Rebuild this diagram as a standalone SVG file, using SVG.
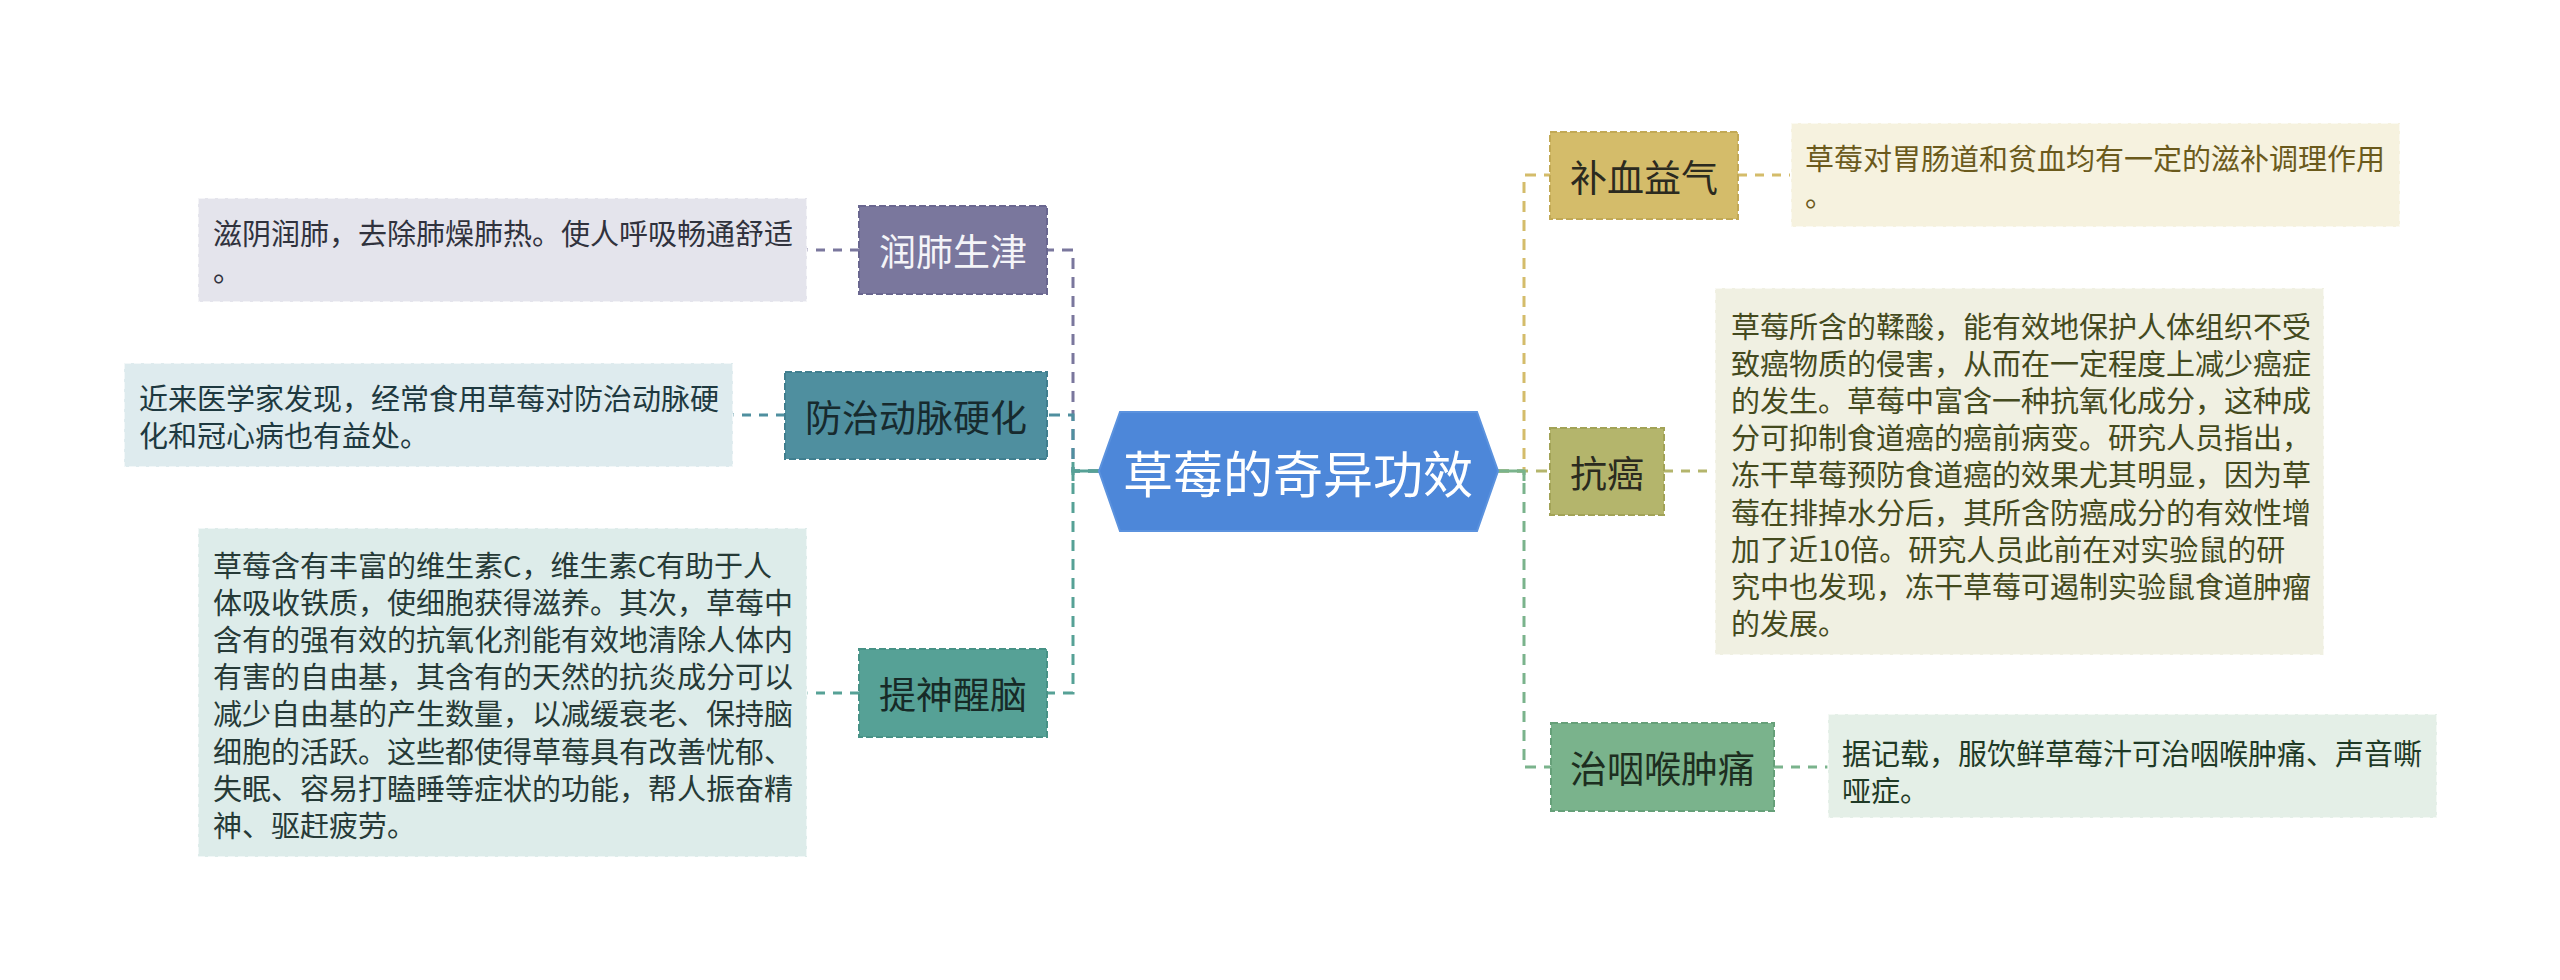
<svg xmlns="http://www.w3.org/2000/svg" width="2560" height="980" viewBox="0 0 2560 980">
<style>
text{font-family:"Noto Sans CJK SC","Noto Sans",sans-serif;}
.node text{font-size:37px;dominant-baseline:central;text-anchor:middle;}
.box text{font-size:29px;dominant-baseline:central;}
.nb{stroke-width:2;stroke-dasharray:7 3;}
.bb{stroke-width:2;stroke-dasharray:7 3;stroke:#ffffff;stroke-opacity:0.6;}
.c{fill:none;stroke-width:3;stroke-dasharray:11 8;}
.l{fill:none;stroke-width:3;stroke-dasharray:9 8;}
</style>
<rect width="2560" height="980" fill="#ffffff"/>
<g id="connectors">
  <path class="c" d="M1099,471 H1073 V250 H1047" stroke="#7a779d"/>
  <path class="c" d="M1099,471 H1073 V415 H1047" stroke="#4f8f9f"/>
  <path class="c" d="M1099,471 H1073 V693 H1047" stroke="#56a196"/>
  <path d="M1099,471 H1073 M1073,462 V481" fill="none" stroke="#56a196" stroke-width="3"/>
  <path class="l" d="M859,250 H807" stroke="#7a779d"/>
  <path class="l" d="M785,415 H733" stroke="#4f8f9f"/>
  <path class="l" d="M859,693 H807" stroke="#56a196"/>
  <path class="c" d="M1498,471 H1524 V175 H1550" stroke="#d4bc6a"/>
  <path class="c" d="M1498,471 H1550" stroke="#b4b56c"/>
  <path class="c" d="M1498,471 H1524 V767 H1551" stroke="#7ab38c"/>
  <path d="M1498,471 H1524 M1524,471 V481" fill="none" stroke="#7ab38c" stroke-width="3"/>
  <path class="l" d="M1738,175 H1790" stroke="#d4bc6a"/>
  <path class="l" d="M1664,471 H1715" stroke="#b4b56c"/>
  <path class="l" d="M1774,767 H1828" stroke="#7ab38c"/>
</g>
<g id="root" class="node">
  <polygon points="1099,471 1120,412 1477,412 1498,471 1477,531 1120,531" fill="#4d87d9" stroke="#5b92de" stroke-width="2"/>
  <text x="1298" y="471" fill="#ffffff" style="font-size:50px">草莓的奇异功效</text>
</g>
<g id="n-buxue" class="node">
  <rect x="1550" y="132" width="188" height="87" fill="#d4bc6a" stroke="#c2a955" class="nb"/>
  <text x="1644" y="175.5" fill="#2b2a1f">补血益气</text>
</g>
<g id="t-buxue" class="box">
  <rect x="1791" y="123" width="609" height="104" fill="#f6f2df" class="bb"/>
  <text fill="#6b5a1c"><tspan x="1805" y="157">草莓对胃肠道和贫血均有一定的滋补调理作用</tspan><tspan x="1805" y="194">。</tspan></text>
</g>
<g id="n-kangai" class="node">
  <rect x="1550" y="428" width="114" height="87" fill="#b4b56c" stroke="#a2a357" class="nb"/>
  <text x="1607" y="471.5" fill="#2b2b1f">抗癌</text>
</g>
<g id="t-kangai" class="box">
  <rect x="1715" y="288" width="609" height="367" fill="#f0f0e2" class="bb"/>
  <text fill="#444a1e">
    <tspan x="1731" y="325">草莓所含的鞣酸，能有效地保护人体组织不受</tspan>
    <tspan x="1731" y="362.1">致癌物质的侵害，从而在一定程度上减少癌症</tspan>
    <tspan x="1731" y="399.2">的发生。草莓中富含一种抗氧化成分，这种成</tspan>
    <tspan x="1731" y="436.3">分可抑制食道癌的癌前病变。研究人员指出，</tspan>
    <tspan x="1731" y="473.4">冻干草莓预防食道癌的效果尤其明显，因为草</tspan>
    <tspan x="1731" y="510.5">莓在排掉水分后，其所含防癌成分的有效性增</tspan>
    <tspan x="1731" y="547.6">加了近10倍。研究人员此前在对实验鼠的研</tspan>
    <tspan x="1731" y="584.7">究中也发现，冻干草莓可遏制实验鼠食道肿瘤</tspan>
    <tspan x="1731" y="621.8">的发展。</tspan>
  </text>
</g>
<g id="n-yanhou" class="node">
  <rect x="1551" y="723" width="223" height="88" fill="#7ab38c" stroke="#66a079" class="nb"/>
  <text x="1662.5" y="767" fill="#1d2e20">治咽喉肿痛</text>
</g>
<g id="t-yanhou" class="box">
  <rect x="1828" y="714" width="609" height="104" fill="#e4efe7" class="bb"/>
  <text fill="#1f3a26"><tspan x="1842" y="752">据记载，服饮鲜草莓汁可治咽喉肿痛、声音嘶</tspan><tspan x="1842" y="789">哑症。</tspan></text>
</g>
<g id="n-runfei" class="node">
  <rect x="859" y="206" width="188" height="88" fill="#7a779d" stroke="#6a6790" class="nb"/>
  <text x="953" y="250" fill="#f4f4f8">润肺生津</text>
</g>
<g id="t-runfei" class="box">
  <rect x="198" y="198" width="609" height="104" fill="#e4e4ec" class="bb"/>
  <text fill="#30323d"><tspan x="213" y="232">滋阴润肺，去除肺燥肺热。使人呼吸畅通舒适</tspan><tspan x="213" y="269">。</tspan></text>
</g>
<g id="n-fangzhi" class="node">
  <rect x="785" y="372" width="262" height="87" fill="#4f8f9f" stroke="#417f8f" class="nb"/>
  <text x="916" y="415.5" fill="#172a2e">防治动脉硬化</text>
</g>
<g id="t-fangzhi" class="box">
  <rect x="124" y="363" width="609" height="104" fill="#deebee" class="bb"/>
  <text fill="#1e3940"><tspan x="139" y="397">近来医学家发现，经常食用草莓对防治动脉硬</tspan><tspan x="139" y="434">化和冠心病也有益处。</tspan></text>
</g>
<g id="n-tishen" class="node">
  <rect x="859" y="649" width="188" height="88" fill="#56a196" stroke="#489286" class="nb"/>
  <text x="953" y="693" fill="#172a27">提神醒脑</text>
</g>
<g id="t-tishen" class="box">
  <rect x="198" y="528" width="609" height="329" fill="#ddecea" class="bb"/>
  <text fill="#263a37">
    <tspan x="213" y="564">草莓含有丰富的维生素C，维生素C有助于人</tspan>
    <tspan x="213" y="601.1">体吸收铁质，使细胞获得滋养。其次，草莓中</tspan>
    <tspan x="213" y="638.2">含有的强有效的抗氧化剂能有效地清除人体内</tspan>
    <tspan x="213" y="675.3">有害的自由基，其含有的天然的抗炎成分可以</tspan>
    <tspan x="213" y="712.4">减少自由基的产生数量，以减缓衰老、保持脑</tspan>
    <tspan x="213" y="749.5">细胞的活跃。这些都使得草莓具有改善忧郁、</tspan>
    <tspan x="213" y="786.6">失眠、容易打瞌睡等症状的功能，帮人振奋精</tspan>
    <tspan x="213" y="823.7">神、驱赶疲劳。</tspan>
  </text>
</g>
</svg>
